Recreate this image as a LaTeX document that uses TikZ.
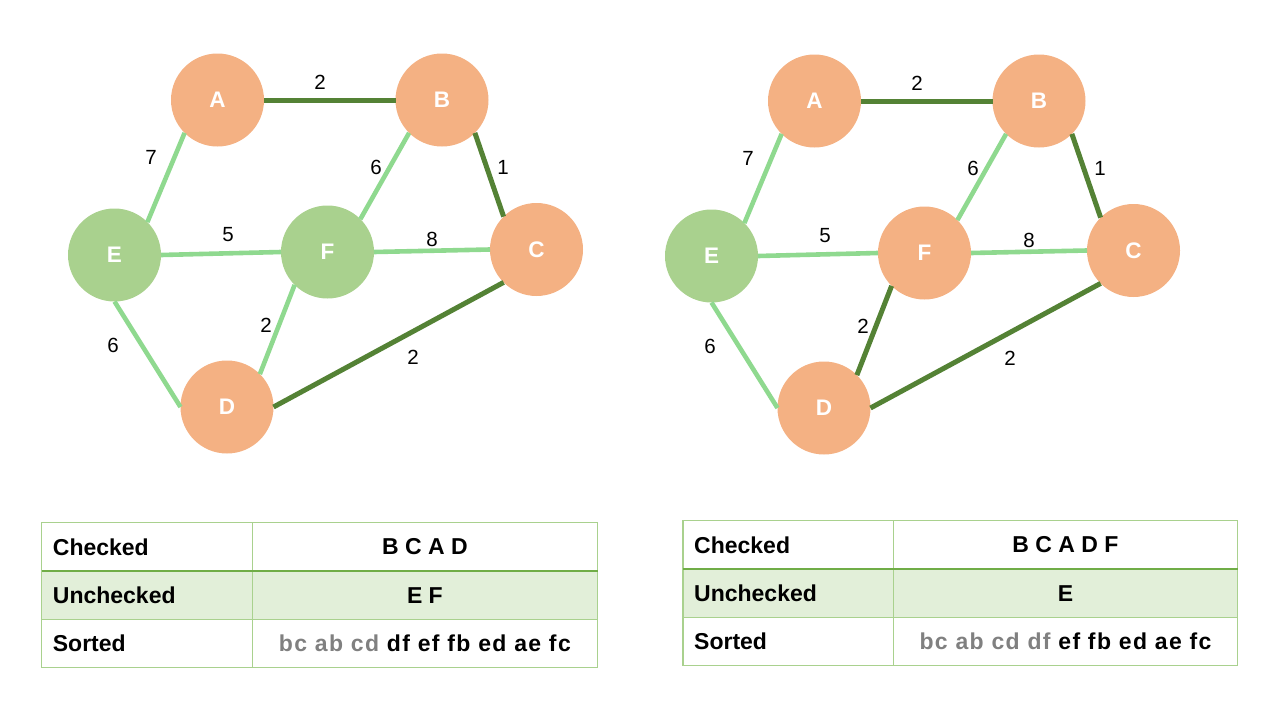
\documentclass[tikz,border=0pt]{standalone}
\usepackage{fontspec}
\setmainfont{Liberation Sans}
\definecolor{nodeor}{RGB}{244,177,131}
\definecolor{nodegr}{RGB}{169,209,142}
\definecolor{edark}{RGB}{84,130,53}
\definecolor{elight}{RGB}{143,217,143}
\definecolor{tborder}{RGB}{169,209,142}
\definecolor{tline}{RGB}{112,173,71}
\definecolor{tfill}{RGB}{226,239,217}
\definecolor{gtext}{RGB}{128,128,128}
\tikzset{
 vtx/.style={circle, minimum size=93pt, inner sep=0pt, outer sep=0pt, text=white, font=\fontsize{22.5}{22.5}\selectfont\bfseries},
 vor/.style={vtx, fill=nodeor},
 vgr/.style={vtx, fill=nodegr},
 edk/.style={draw=edark, line width=5pt},
 elt/.style={draw=elight, line width=4.6pt},
 wt/.style={font=\fontsize{20.5}{20.5}\selectfont, text=black, inner sep=0pt},
 cellt/.style={font=\fontsize{23}{23}\selectfont\bfseries, inner sep=0pt, text=black},
 tbord/.style={draw=tborder, line width=1.3pt},
 tmid/.style={draw=tline, line width=2.6pt},
}
\begin{document}
\begin{tikzpicture}[x=1pt,y=-1pt]
\useasboundingbox (0,0) rectangle (1280,720);

% ---------- left graph ----------
\node[vor] (lA) at (217.5,100) {A};
\node[vor] (lB) at (442,100) {B};
\node[vor] (lC) at (536.5,249.5) {C};
\node[vgr] (lE) at (114.5,255) {E};
\node[vgr] (lF) at (327.5,252) {F};
\node[vor] (lD) at (227,407) {D};

\draw[edk] (lA.east) -- (lB.west);
\draw[edk] (lB.south east) -- (lC.north west);
\draw[edk] (lD.east) -- (lC.south west);
\draw[elt] (lE.north east) -- (lA.south west);
\draw[elt] (lE.east) -- (lF.west);
\draw[elt] (lF.east) -- (lC.west);
\draw[elt] (lB.south west) -- (lF.north east);
\draw[elt] (lE.south) -- (lD.west);
\draw[elt] (lF.south west) -- (lD.north east);

\node[wt] (lwAB) at (320,82) {2};
\node[wt] (lwAE) at (151,157) {7};
\node[wt] (lwEF) at (228,235) {5};
\node[wt] (lwBF) at (376,167) {6};
\node[wt] (lwBC) at (503,167) {1};
\node[wt] (lwFC) at (432,239) {8};
\node[wt] (lwFD) at (266,325) {2};
\node[wt] (lwED) at (113,345) {6};
\node[wt] (lwDC) at (413,357) {2};

% ---------- right graph ----------
\begin{scope}[shift={(597,1)}]
\node[vor] (rA) at (217.5,100) {A};
\node[vor] (rB) at (442,100) {B};
\node[vor] (rC) at (536.5,249.5) {C};
\node[vgr] (rE) at (114.5,255) {E};
\node[vor] (rF) at (327.5,252) {F};
\node[vor] (rD) at (227,407) {D};

\draw[edk] (rA.east) -- (rB.west);
\draw[edk] (rB.south east) -- (rC.north west);
\draw[edk] (rD.east) -- (rC.south west);
\draw[elt] (rE.north east) -- (rA.south west);
\draw[elt] (rE.east) -- (rF.west);
\draw[elt] (rF.east) -- (rC.west);
\draw[elt] (rB.south west) -- (rF.north east);
\draw[elt] (rE.south) -- (rD.west);
\draw[edk] (rF.south west) -- (rD.north east);

\node[wt] (rwAB) at (320,82) {2};
\node[wt] (rwAE) at (151,157) {7};
\node[wt] (rwEF) at (228,235) {5};
\node[wt] (rwBF) at (376,167) {6};
\node[wt] (rwBC) at (503,167) {1};
\node[wt] (rwFC) at (432,239) {8};
\node[wt] (rwFD) at (266,325) {2};
\node[wt] (rwED) at (113,345) {6};
\node[wt] (rwDC) at (413,357) {2};
\end{scope}

% ---------- left table ----------
\begin{scope}[shift={(41.7,522.7)}]
\fill[tfill] (0,48.3) rectangle (555.8,96.5);
\draw[tbord] (0,0) rectangle (555.8,145);
\draw[tbord] (0,96.5) -- (555.8,96.5);
\draw[tbord] (210.6,0) -- (210.6,145);
\draw[tmid] (0,48.3) -- (555.8,48.3);
\node[cellt, anchor=west] (lt1a) at (11,24.2) {Checked};
\node[cellt, anchor=west] (lt2a) at (11,72.4) {Unchecked};
\node[cellt, anchor=west] (lt3a) at (11,120.7) {Sorted};
\node[cellt] (lt1b) at (383.2,24.2) {B C A D};
\node[cellt] (lt2b) at (383.2,72.4) {E F};
\node[cellt] (lt3b) at (383.2,120.7) {\addfontfeature{LetterSpace=6}{\color{gtext}bc ab cd} df ef fb ed ae fc};
\end{scope}

% ---------- right table ----------
\begin{scope}[shift={(683,520.7)}]
\fill[tfill] (0,48.3) rectangle (554.5,97);
\draw[tbord] (0,0) rectangle (554.5,145);
\draw[tbord] (0,97) -- (554.5,97);
\draw[tbord] (210.5,0) -- (210.5,145);
\draw[tmid] (0,48.3) -- (554.5,48.3);
\node[cellt, anchor=west] (rt1a) at (11,24.2) {Checked};
\node[cellt, anchor=west] (rt2a) at (11,72.4) {Unchecked};
\node[cellt, anchor=west] (rt3a) at (11,120.7) {Sorted};
\node[cellt] (rt1b) at (382.5,24.2) {B C A D F};
\node[cellt] (rt2b) at (382.5,72.4) {E};
\node[cellt] (rt3b) at (382.5,120.7) {\addfontfeature{LetterSpace=6}{\color{gtext}bc ab cd df} ef fb ed ae fc};
\end{scope}
\end{tikzpicture}
\end{document}
